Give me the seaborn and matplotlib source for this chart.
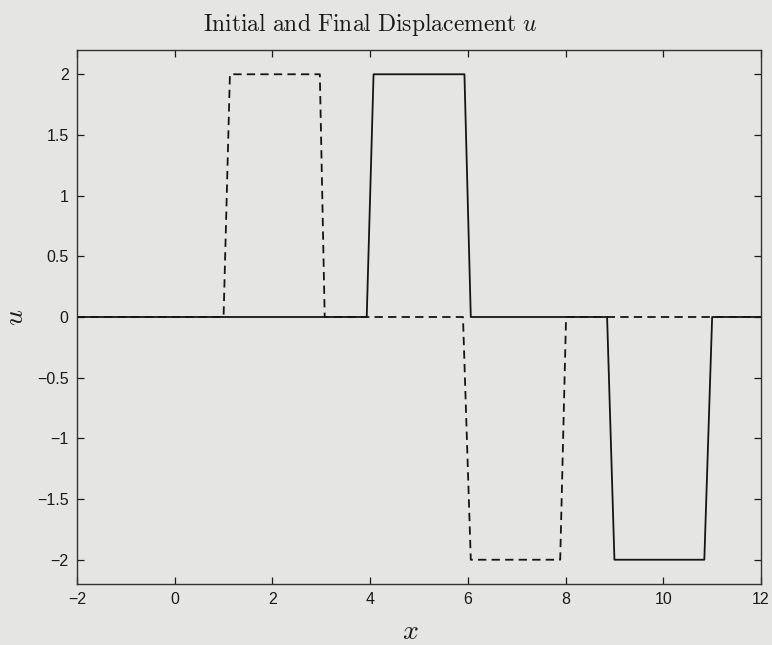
import numpy as np
import pandas as pd
import matplotlib
matplotlib.use("Agg")
import matplotlib.pyplot as plt
import seaborn as sns

# Data
x_initial = [-2.0, 1.0, 1.13, 2.97, 3.07, 5.9, 6.06, 7.89, 8.01, 12.0]
u_initial = [0.0, 0.0, 2.0, 2.0, 0.0, 0.0, -2.0, -2.0, 0.0, 0.0]
x_final = [-2.0, 3.93, 4.07, 5.93, 6.06, 8.85, 9.0, 10.84, 11.0, 12.0]
u_final = [0.0, 0.0, 2.0, 2.0, 0.0, 0.0, -2.0, -2.0, 0.0, 0.0]
x_ticks = [-2, 0, 2, 4, 6, 8, 10, 12]
y_ticks = [-2, -1.5, -1, -0.5, 0, 0.5, 1, 1.5, 2]
y_ticklabels = ["\u22122", "\u22121.5", "\u22121", "\u22120.5", "0", "0.5", "1", "1.5", "2"]
x_ticklabels = ["\u22122", "0", "2", "4", "6", "8", "10", "12"]

sns.set_style("ticks")
plt.rcParams['font.family'] = ['Liberation Sans', 'DejaVu Sans']
plt.rcParams['mathtext.fontset'] = 'cm'

bg = '#e5e5e3'
fig = plt.figure(figsize=(7.72, 6.45), dpi=100, facecolor=bg)
ax = fig.add_axes([77/772, 1 - 584/645, (761-77)/772, (584-50)/645])
ax.set_facecolor(bg)

df_i = pd.DataFrame({'x': x_initial, 'u': u_initial})
df_f = pd.DataFrame({'x': x_final, 'u': u_final})

sns.lineplot(data=df_f, x='x', y='u', ax=ax, color='#151515', lw=1.3,
             estimator=None, sort=False)
sns.lineplot(data=df_i, x='x', y='u', ax=ax, color='#151515', lw=1.3,
             estimator=None, sort=False, dashes=False, linestyle=(0, (4.6, 2.9)))

ax.set_xlim(-2, 12)
ax.set_ylim(-2.2, 2.2)
ax.set_xticks(x_ticks)
ax.set_xticklabels(x_ticklabels)
ax.set_yticks(y_ticks)
ax.set_yticklabels(y_ticklabels)
ax.tick_params(direction='in', length=5, width=0.9, top=True, right=True,
               labelsize=11.5, colors='#1a1a1a', pad=6)
for s in ax.spines.values():
    s.set_visible(True)
    s.set_linewidth(1.0)
    s.set_color('#333333')

ax.set_xlabel('')
ax.set_ylabel('')
fig.text(370/772, 1 - 25/645, r'$\mathrm{Initial\ and\ Final\ Displacement}\ u$',
         ha='center', va='center', fontsize=17, color='#1a1a1a')
fig.text(410/772, 1 - 632/645, r'$x$', ha='center', va='center', fontsize=20, color='#1a1a1a')
fig.text(16/772, 1 - 317/645, r'$u$', ha='center', va='center', fontsize=20,
         rotation=90, color='#1a1a1a')

fig.savefig('out.png', dpi=100, facecolor=bg)
